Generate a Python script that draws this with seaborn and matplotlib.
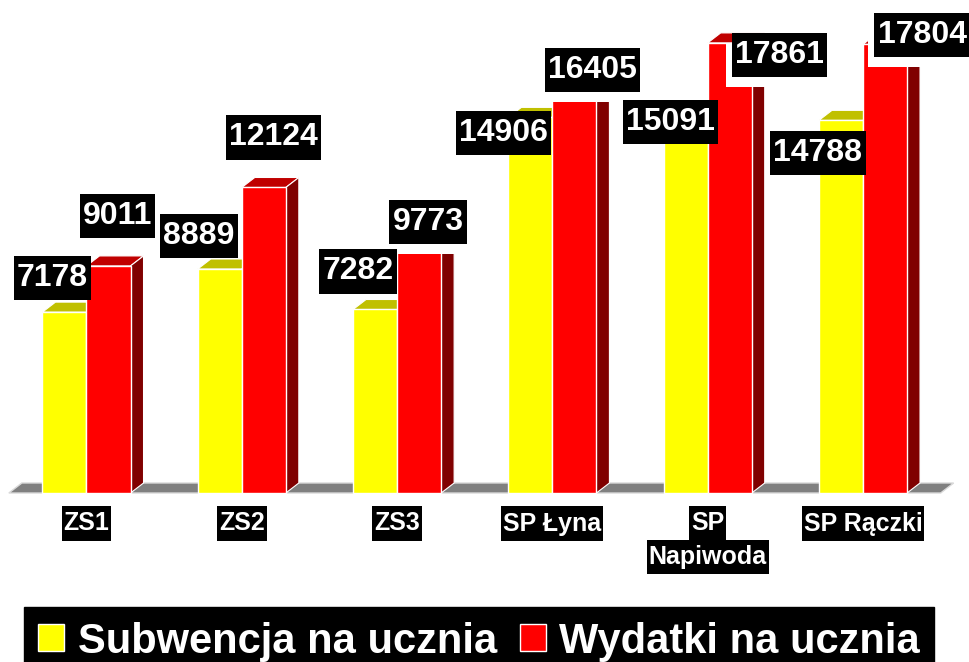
import matplotlib
matplotlib.use('Agg')
import matplotlib.pyplot as plt
from matplotlib.patches import Polygon, Rectangle
from matplotlib.transforms import offset_copy, blended_transform_factory, IdentityTransform
import pandas as pd
import seaborn as sns

# Values
schools = ['ZS1', 'ZS2', 'ZS3', 'SP Łyna', 'SP\nNapiwoda', 'SP Rączki']
series = ['Subwencja na ucznia', 'Wydatki na ucznia']
subwencja = [7178, 8889, 7282, 14906, 15091, 14788]
wydatki = [9011, 12124, 9773, 16405, 17861, 17804]

# where each value label sits, in pixels from the top-centre of its bar
# (the original chart shoved them around to avoid overlaps)
offsets_sub = [(-12, 34), (-21, 33), (-17, 38), (-27, -16), (-15, -9), (-23, -33)]
offsets_wyd = [(9, 50), (10, 50), (9, 25), (18, 10), (50, -12), (37, 9)]

# pixel scale of the reference: group spacing and px per unit of value
PX_PER_GROUP = 155.3
PX_PER_UNIT = 0.0252
W, H = 970, 662
FLOOR_PX = 493
DX = 13 / PX_PER_GROUP   # 3d depth, sideways
DY = 10 / PX_PER_UNIT    # 3d depth, upwards

sns.set_style('white')
plt.rcParams['font.family'] = ['Liberation Sans', 'DejaVu Sans']

df = pd.DataFrame({
    'Szkoła': schools * 2,
    'Seria': [series[0]] * len(schools) + [series[1]] * len(schools),
    'Wartość': subwencja + wydatki,
})

fig = plt.figure(figsize=(W / 100, H / 100), dpi=100)
ax = fig.add_axes([0, 0, 1, 1])

sns.barplot(data=df, x='Szkoła', y='Wartość', hue='Seria',
            palette=['#ffff00', '#ff0000'], saturation=1, width=0.567,
            edgecolor='white', linewidth=1, legend=False, ax=ax, zorder=2)

x0 = -86.5 / PX_PER_GROUP
ax.set_xlim(x0, x0 + W / PX_PER_GROUP)
ax.set_ylim(-(H - FLOOR_PX) / PX_PER_UNIT, FLOOR_PX / PX_PER_UNIT)
ax.axis('off')

# grey floor
n = len(schools)
ax.add_patch(Polygon([(-0.5, 0), (n - 0.5, 0), (n - 0.5 + DX, DY), (-0.5 + DX, DY)],
                     closed=True, fc='#808080', ec='#d9d9d9', lw=1, zorder=1))

# fake 3d: top and side faces for every bar
face_cols = [('#c0c000', '#808000'), ('#c00000', '#800000')]
for cont, (top_c, side_c) in zip(ax.containers, face_cols):
    for p in cont:
        bx0 = p.get_x()
        bx1 = bx0 + p.get_width()
        h = p.get_height()
        ax.add_patch(Polygon([(bx0, h), (bx1, h), (bx1 + DX, h + DY), (bx0 + DX, h + DY)],
                             closed=True, fc=top_c, ec='white', lw=0.8, zorder=1.5))
        ax.add_patch(Polygon([(bx1, 0), (bx1, h), (bx1 + DX, h + DY), (bx1 + DX, DY)],
                             closed=True, fc=side_c, ec='white', lw=0.8, zorder=1.5))

# value labels (mutation_aspect stretches the box padding vertically only)
red_labels = []
for k, (cont, offs) in enumerate(zip(ax.containers, [offsets_sub, offsets_wyd])):
    for p, (dx, dy) in zip(cont, offs):
        cx = p.get_x() + p.get_width() / 2
        h = p.get_height()
        tr = offset_copy(ax.transData, fig=fig, x=dx, y=dy, units='dots')
        t = ax.text(cx, h, f'{int(round(h))}', transform=tr, color='white', zorder=4,
                    ha='center', va='center', fontsize=23, fontweight='bold',
                    bbox=dict(boxstyle='square,pad=0.1', fc='black', ec='none',
                              mutation_aspect=2.2))
        if k == 1:
            red_labels.append(t)

# category labels, one black box per line
trans = blended_transform_factory(ax.transData, fig.transFigure)
for i, name in enumerate(schools):
    for j, line in enumerate(name.split('\n')):
        ax.text(i, (H - 523.5) / H - j * 33.5 / H, line, transform=trans,
                ha='center', va='center', fontsize=18, fontweight='bold', color='white',
                bbox=dict(boxstyle='square,pad=0.08', fc='black', ec='none',
                          mutation_aspect=2.6), zorder=4)

handles = [cont[0] for cont in ax.containers]
ax.legend(handles, series, loc='upper center', bbox_to_anchor=(479 / W, (H - 607) / H),
          bbox_transform=fig.transFigure, ncol=2, frameon=True, fancybox=False,
          facecolor='black', edgecolor='black', framealpha=1, labelcolor='white',
          prop={'weight': 'bold', 'size': 30}, handlelength=0.62, handleheight=0.62,
          handletextpad=0.32, columnspacing=0.55, borderpad=0.35, borderaxespad=0)

# red labels knock a white hole into the bar behind them (shifted down-left)
fig.canvas.draw()
for t in red_labels:
    bb = t.get_bbox_patch().get_window_extent()
    ax.add_artist(Rectangle((bb.x0 - 6, bb.y0 - 10), bb.width, bb.height,
                            transform=IdentityTransform(), fc='white', ec='none', zorder=3))

fig.savefig('out.png', dpi=100)
